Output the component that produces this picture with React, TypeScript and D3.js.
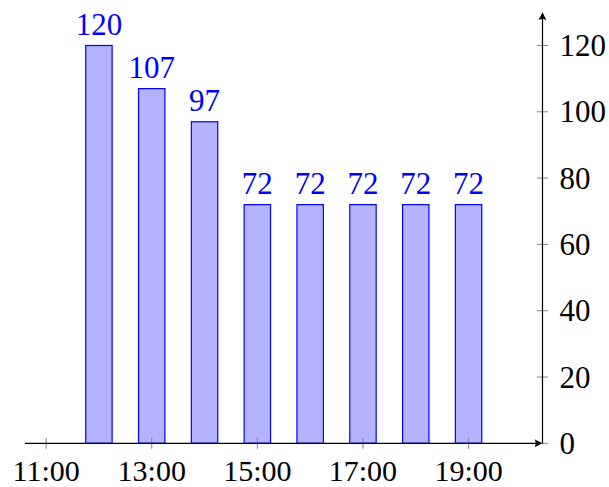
import React from "react";
import * as d3 from "d3";

const hours = [12, 13, 14, 15, 16, 17, 18, 19];
const values = [120, 107, 97, 72, 72, 72, 72, 72];
const xTicks = [11, 13, 15, 17, 19];
const yTicks = [0, 20, 40, 60, 80, 100, 120];

const W = 609;
const H = 487;
const FONT = "'Liberation Serif', 'Times New Roman', serif";

export default function App() {
  const y0 = 443.3;
  const x = d3.scaleLinear().domain([10.6, 20.4]).range([25, 542.5]);
  const y = d3.scaleLinear().domain([0, 130]).range([y0, y0 - 130 * 3.315]);
  const axisX = x(20.4);
  const barHalf = 0.25;
  const fmt = (h: number) => `${h}:00`;

  return (
    <svg
      width={W}
      height={H}
      style={{ position: "absolute", left: 0, top: 0, background: "#fff" }}
    >
      {/* bars */}
      {hours.map((h, i) => (
        <rect
          key={h}
          x={x(h - barHalf)}
          y={y(values[i])}
          width={x(h + barHalf) - x(h - barHalf)}
          height={y(0) - y(values[i])}
          fill="#b3b3ff"
          stroke="#0000ff"
          strokeWidth={1.2}
        />
      ))}
      {/* bar labels */}
      {hours.map((h, i) => (
        <text
          key={"l" + h}
          x={x(h)}
          y={y(values[i]) - 11}
          textAnchor="middle"
          fill="#0000ff"
          fontFamily={FONT}
          fontSize={31}
        >
          {values[i]}
        </text>
      ))}
      {/* x ticks */}
      {xTicks.map((t) => (
        <g key={"xt" + t}>
          <line x1={x(t)} x2={x(t)} y1={y0 - 5.5} y2={y0 + 5.5} stroke="#808080" strokeWidth={1} />
          <text x={x(t)} y={480.5} textAnchor="middle" fontFamily={FONT} fontSize={30} fill="#000">
            {fmt(t)}
          </text>
        </g>
      ))}
      {/* y ticks */}
      {yTicks.map((t) => (
        <g key={"yt" + t}>
          <line x1={axisX - 5.5} x2={axisX + 5.5} y1={y(t)} y2={y(t)} stroke="#808080" strokeWidth={1} />
          <text x={559.5} y={y(t) + 10.5} textAnchor="start" fontFamily={FONT} fontSize={31} fill="#000">
            {t}
          </text>
        </g>
      ))}
      {/* x axis */}
      <line x1={x(10.6)} x2={axisX - 4} y1={y0} y2={y0} stroke="#000" strokeWidth={1.2} />
      <path
        d={`M${axisX},${y0} L${axisX - 8},${y0 - 4} Q${axisX - 5.5},${y0} ${axisX - 8},${y0 + 4} Z`}
        fill="#000"
      />
      {/* y axis */}
      <line x1={axisX} x2={axisX} y1={y0} y2={y(130) + 4} stroke="#000" strokeWidth={1.2} />
      <path
        d={`M${axisX},${y(130)} L${axisX - 4},${y(130) + 8} Q${axisX},${y(130) + 5.5} ${axisX + 4},${y(130) + 8} Z`}
        fill="#000"
      />
    </svg>
  );
}
